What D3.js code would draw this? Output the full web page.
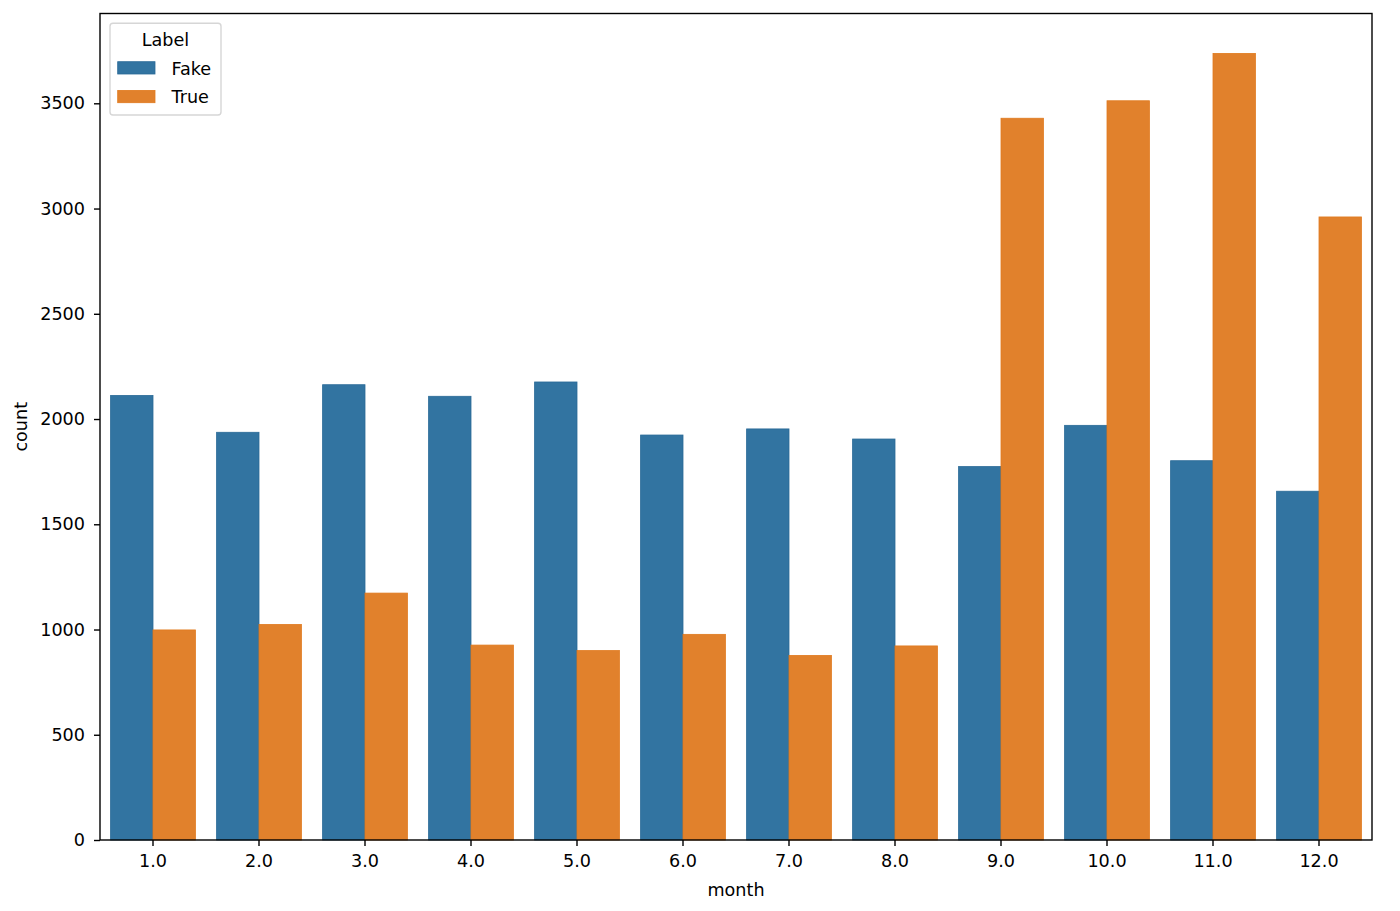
<!DOCTYPE html>
<html>
<head>
<meta charset="utf-8">
<script src="https://cdn.jsdelivr.net/npm/d3@7"></script>
<style>
  body { margin: 0; background: #fff; }
  svg { display: block; font-family: "DejaVu Sans", sans-serif; }
</style>
</head>
<body>
<svg id="chart" width="1400" height="911"></svg>
<script>
// counts per month
var months = ['1.0', '2.0', '3.0', '4.0', '5.0', '6.0', '7.0', '8.0', '9.0', '10.0', '11.0', '12.0'];
var labels = ['Fake', 'True'];
var fakeCounts = [2112, 1937, 2163, 2108, 2176, 1924, 1953, 1905, 1774, 1970, 1802, 1657];
var trueCounts = [998, 1024, 1173, 926, 900, 977, 877, 922, 3429, 3512, 3737, 2960];
var yTicks = [0, 500, 1000, 1500, 2000, 2500, 3000, 3500];

var colors = { Fake: '#3274a1', True: '#e1812c' };
var edges = { Fake: '#2a6a97', True: '#e07a1e' };

var margin = { left: 100, top: 13.5, right: 1372, bottom: 840 };
var fs = 17.6;

var svg = d3.select('#chart');

var x = d3.scaleBand()
	.domain(months)
	.range([margin.left, margin.right])
	.paddingInner(0)
	.paddingOuter(0);

// hue bars fill 80% of each month band
var inner = d3.scaleBand()
	.domain(labels)
	.range([0, x.bandwidth()])
	.paddingInner(0)
	.paddingOuter(0.25);

var y = d3.scaleLinear()
	.domain([0, 3500])
	.range([margin.bottom, 103.3]);

var rows = months.map(function (m, i) {
	return { month: m, Fake: fakeCounts[i], True: trueCounts[i] };
});

var groups = svg.append('g')
	.selectAll('g')
	.data(rows)
	.enter().append('g')
	.attr('transform', function (d) { return 'translate(' + x(d.month) + ',0)'; });

groups.selectAll('rect')
	.data(function (d) {
		return labels.map(function (l) { return { label: l, value: d[l] }; });
	})
	.enter().append('rect')
	.attr('x', function (d) { return inner(d.label); })
	.attr('width', inner.bandwidth())
	.attr('y', function (d) { return y(d.value); })
	.attr('height', function (d) { return y(0) - y(d.value); })
	.style('fill', function (d) { return colors[d.label]; })
	.style('stroke', function (d) { return edges[d.label]; })
	.style('stroke-width', 0.8);

// axes
var yAxis = d3.axisLeft(y)
	.tickValues(yTicks)
	.tickFormat(d3.format('d'))
	.tickSize(6)
	.tickPadding(9);

var xAxis = d3.axisBottom(x)
	.tickSize(6)
	.tickPadding(9);

var gy = svg.append('g')
	.attr('transform', 'translate(' + margin.left + ',0)')
	.call(yAxis);

var gx = svg.append('g')
	.attr('transform', 'translate(0,' + margin.bottom + ')')
	.call(xAxis);

[gx, gy].forEach(function (g) {
	g.select('.domain').remove();
	g.selectAll('line').attr('stroke', '#000').attr('stroke-width', 1.4);
	g.selectAll('text')
		.attr('fill', '#000')
		.style('font-size', fs + 'px')
		.style('font-family', '"DejaVu Sans", sans-serif');
});

// spines
svg.append('rect')
	.attr('x', margin.left)
	.attr('y', margin.top)
	.attr('width', margin.right - margin.left)
	.attr('height', margin.bottom - margin.top)
	.style('fill', 'none')
	.style('stroke', '#000')
	.style('stroke-width', 1.4);

// axis titles
svg.append('text')
	.attr('x', (margin.left + margin.right) / 2)
	.attr('y', 896)
	.attr('text-anchor', 'middle')
	.style('font-size', fs + 'px')
	.text('month');

svg.append('text')
	.attr('transform', 'translate(27.3,' + (margin.top + margin.bottom) / 2 + ') rotate(-90)')
	.attr('text-anchor', 'middle')
	.style('font-size', fs + 'px')
	.text('count');

// legend
var legend = svg.append('g');

legend.append('rect')
	.attr('x', 110)
	.attr('y', 23.3)
	.attr('width', 111)
	.attr('height', 91.7)
	.attr('rx', 3)
	.style('fill', 'rgba(255,255,255,0.8)')
	.style('stroke', '#d6d6d6')
	.style('stroke-width', 1.4);

legend.append('text')
	.attr('x', 165.5)
	.attr('y', 46)
	.attr('text-anchor', 'middle')
	.style('font-size', fs + 'px')
	.text('Label');

var items = legend.selectAll('g.item')
	.data(labels)
	.enter().append('g')
	.attr('class', 'item')
	.attr('transform', function (d, i) { return 'translate(0,' + (i * 28.7) + ')'; });

items.append('rect')
	.attr('x', 117.7)
	.attr('y', 61.7)
	.attr('width', 37.3)
	.attr('height', 12.3)
	.style('fill', function (d) { return colors[d]; })
	.style('stroke', function (d) { return edges[d]; })
	.style('stroke-width', 0.8);

items.append('text')
	.attr('x', 171.5)
	.attr('y', 74.5)
	.style('font-size', fs + 'px')
	.text(function (d) { return d; });
</script>
</body>
</html>
